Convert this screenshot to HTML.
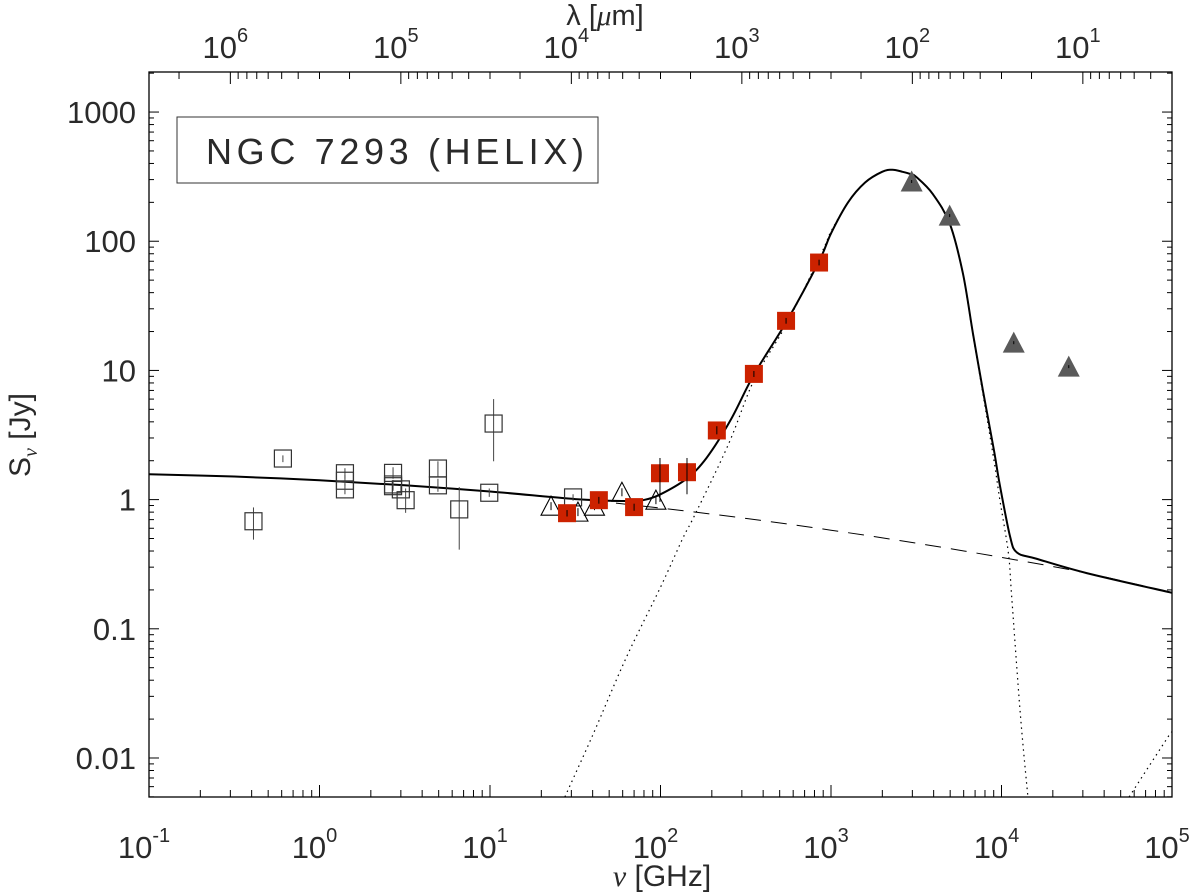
<!DOCTYPE html>
<html><head><meta charset="utf-8"><style>
html,body{margin:0;padding:0;background:#fff;}
svg{display:block;font-family:"Liberation Sans",sans-serif;}
</style></head><body>
<svg id="chart" width="1200" height="895" viewBox="0 0 1200 895" xmlns="http://www.w3.org/2000/svg"></svg>
<script>
// ---- data (frequency in GHz, flux in Jy) ----
const openSqNu   = [0.41,0.61,1.41,1.41,1.41,2.7,2.7,2.7,3.0,3.2,4.95,4.95,6.6,9.9,10.5,30.7];
const openSqS    = [0.68,2.08,1.6,1.4,1.2,1.61,1.31,1.27,1.2,0.99,1.74,1.29,0.84,1.13,3.88,1.04];
const openSqLo   = [0.49,1.95,1.45,1.28,1.1,1.45,1.2,1.17,1.12,0.79,1.5,1.15,0.41,1.05,1.98,0.98];
const openSqHi   = [0.87,2.2,1.75,1.55,1.32,1.78,1.42,1.38,1.3,1.22,1.98,1.45,1.25,1.22,6.0,1.1];
const openTriNu  = [22.8,32.8,41,59.4,94];
const openTriS   = [0.89,0.80,0.89,1.14,0.99];
const redNu      = [28.3,43.5,70,99.3,143,214,353,545,851];
const redS       = [0.785,0.99,0.875,1.6,1.63,3.43,9.4,24.2,68.4];
const redLo      = [0.74,0.93,0.82,0.96,1.1,3.2,8.9,23,65];
const redHi      = [0.83,1.05,0.93,2.1,2.1,3.7,9.9,25.5,72];
const greyTriNu  = [2972,4966,11800,24800];
const greyTriS   = [290,158,16.4,10.7];
// model curves
const totalNu = [0.1,0.316,1,3.16,10,31.6,60,79,100,143,186,257,355,550,851,1000,1259,1585,1995,2291,2630,2951,3162,3963,4989,5943,6808,7780,9036,9772,11220,12300,15850,31620,100000];
const totalS  = [1.57,1.51,1.41,1.29,1.155,1.01,0.975,0.99,1.1,1.46,2.1,4.1,9.4,24,70,115,200,285,345,358,345,330,315,231,135,56,19.2,7.0,2.4,1.3,0.52,0.39,0.35,0.27,0.19];
const ffNu = [0.1,0.316,1,3.16,10,31.6,100,316,1000,3162,10000,31620,100000];
const ffS  = [1.57,1.51,1.41,1.29,1.155,1.01,0.86,0.715,0.58,0.46,0.357,0.27,0.19];
const dustNu = [27.5,40,63,100,135,158,251,355,550,891,1000,1259,1585,1995,2291,2630,2951,3162,3981,5012,5943,6808,7780,9036,9772,10965,11482,12882,14289];
const dustS  = [0.005,0.015,0.06,0.21,0.5,0.75,2.7,8.5,23,84,119,199,284,344,357,344,329,314,230,134,55,18.7,6.6,2.0,1.0,0.39,0.177,0.022,0.005];
const hotNu = [56000,95500,100000];
const hotS  = [0.005,0.0148,0.016];
const xTickExp = [-1,0,1,2,3,4,5];
const yTickVals = [1000,100,10,1,0.1,0.01];
const yTickLabels = ["1000","100","10","1","0.1","0.01"];
const lamTickExp = [6,5,4,3,2,1];

// ---- axes ----
const X0=149,X1=1172,Y0=72,Y1=797;
const xmin=-1,xmax=5, ymin=-2.302,ymax=3.31;
function xs(nu){return X0+(Math.log10(nu)-xmin)/(xmax-xmin)*(X1-X0);}
function ys(s){return Y1-(Math.log10(s)-ymin)/(ymax-ymin)*(Y1-Y0);}
const svg=document.getElementById('chart');
const NS='http://www.w3.org/2000/svg';
function mk(tag,attrs,parent){const e=document.createElementNS(NS,tag);for(const k in attrs)e.setAttribute(k,attrs[k]);(parent||svg).appendChild(e);return e;}
const TXT='#2a2a2a';

const clip=mk('clipPath',{id:'pc'});mk('rect',{x:X0,y:Y0,width:X1-X0,height:Y1-Y0},clip);

const frame=mk('rect',{x:X0,y:Y0,width:X1-X0,height:Y1-Y0,fill:'none',stroke:'#000','stroke-width':1.3});



// x ticks (bottom)
const gx=mk('g',{stroke:'#000','stroke-width':1});


for(let e=-1;e<5;e++){for(let m=1;m<10;m++){const v=m*Math.pow(10,e);const x=xs(v);const L=m===1?12:7;mk('line',{x1:x,y1:Y1,x2:x,y2:Y1-L},gx);}}
mk('line',{x1:X1,y1:Y1,x2:X1,y2:Y1-12},gx);
xTickExp.forEach(e=>{
  const t=mk('text',{x:xs(Math.pow(10,e))-5,y:858,'font-size':31,fill:TXT,'text-anchor':'middle'});
  
  
  t.textContent='10';
  const s=mk('tspan',{'font-size':20,dy:-16},t);s.textContent=String(e);
});
const xt=mk('text',{x:662,y:886,'font-size':30,fill:TXT,'text-anchor':'middle'});


xt.innerHTML='<tspan font-family="Liberation Serif" font-style="italic">ν</tspan> [GHz]';

// top lambda axis
const gt=mk('g',{stroke:'#000','stroke-width':1});


for(let e=0;e<=6;e++){for(let m=1;m<10;m++){const lam=m*Math.pow(10,e);const nu=3e5/lam;const x=xs(nu);if(x<X0-0.5||x>X1+0.5)continue;const L=m===1?12:7;mk('line',{x1:x,y1:Y0,x2:x,y2:Y0+L},gt);}}
lamTickExp.forEach(e=>{
  const t=mk('text',{x:xs(3e5/Math.pow(10,e))-5,y:58,'font-size':31,fill:TXT,'text-anchor':'middle'});
  
  
  t.textContent='10';
  const s=mk('tspan',{'font-size':20,dy:-16},t);s.textContent=String(e);
});
const lt=mk('text',{x:605,y:25,'font-size':29,fill:TXT,'text-anchor':'middle'});


lt.innerHTML='λ [<tspan font-family="Liberation Serif" font-style="italic">μ</tspan>m]';

// y ticks
const gy=mk('g',{stroke:'#000','stroke-width':1});


for(let e=-3;e<4;e++){for(let m=1;m<10;m++){const v=m*Math.pow(10,e);const y=ys(v);if(y<Y0||y>Y1)continue;const L=m===1?10:5;mk('line',{x1:X0,y1:y,x2:X0+L,y2:y},gy);mk('line',{x1:X1,y1:y,x2:X1-L,y2:y},gy);}}
yTickVals.forEach((v,i)=>{
  const t=mk('text',{x:136,y:ys(v)+11,'font-size':31,fill:TXT,'text-anchor':'end'});
  
  
  t.textContent=yTickLabels[i];
});
const yt=mk('text',{x:0,y:0,'font-size':30,fill:TXT,'text-anchor':'middle',transform:'translate(30,435) rotate(-90)'});


yt.innerHTML='S<tspan font-size="20" dy="7" font-family="Liberation Serif" font-style="italic">ν</tspan><tspan dy="-7"> [Jy]</tspan>';

// legend box
const lg=mk('g',{});


mk('rect',{x:177,y:117,width:421,height:66,fill:'#fff',stroke:'#333','stroke-width':1},lg);
const ltxt=mk('text',{x:206,y:164,'font-size':36,fill:TXT,'text-anchor':'start',textLength:378},lg);


ltxt.textContent='NGC 7293 (HELIX)';

// curves (Catmull-Rom smoothing in pixel space)
const gc=mk('g',{'clip-path':'url(#pc)',fill:'none'});
function path(nu,s,attrs,name,smooth){
  const P=nu.map((v,i)=>[xs(v),ys(s[i])]);
  let d='M'+P[0][0].toFixed(1)+','+P[0][1].toFixed(1);
  for(let i=0;i<P.length-1;i++){
    if(!smooth){d+=' L'+P[i+1][0].toFixed(1)+','+P[i+1][1].toFixed(1);continue;}
    const p0=P[i-1]||P[i],p1=P[i],p2=P[i+1],p3=P[i+2]||P[i+1];
    const c1=[p1[0]+(p2[0]-p0[0])/6,p1[1]+(p2[1]-p0[1])/6];
    const c2=[p2[0]-(p3[0]-p1[0])/6,p2[1]-(p3[1]-p1[1])/6];
    d+=' C'+c1[0].toFixed(1)+','+c1[1].toFixed(1)+' '+c2[0].toFixed(1)+','+c2[1].toFixed(1)+' '+p2[0].toFixed(1)+','+p2[1].toFixed(1);
  }
  const p=mk('path',Object.assign({d:d},attrs),gc);
  
  
  return p;
}
path(ffNu,ffS,{stroke:'#000','stroke-width':1,'stroke-dasharray':'16,10'},'free-free-model-line',true);
path(dustNu,dustS,{stroke:'#000','stroke-width':1.2,'stroke-dasharray':'1.5,4'},'dust-model-line',true);
path(hotNu,hotS,{stroke:'#000','stroke-width':1.2,'stroke-dasharray':'1.5,4'},'hot-dust-model-line',false);
path(totalNu,totalS,{stroke:'#000','stroke-width':2,'stroke-linejoin':'round'},'total-model-line',true);

// data points
const gp=mk('g',{'clip-path':'url(#pc)'});
openSqNu.forEach((nu,i)=>{
  const x=xs(nu),y=ys(openSqS[i]);
  const l=mk('line',{x1:x,y1:ys(openSqLo[i]),x2:x,y2:ys(openSqHi[i]),stroke:'#444','stroke-width':1},gp);
  
  
  const r=mk('rect',{x:x-8.5,y:y-8.5,width:17,height:17,fill:'none',stroke:'#333','stroke-width':1.2},gp);
  
  
});
openTriNu.forEach((nu,i)=>{
  const x=xs(nu),y=ys(openTriS[i]);
  const t=mk('polygon',{points:`${x},${y-10} ${x-10},${y+9} ${x+10},${y+9}`,fill:'none',stroke:'#000','stroke-width':1.1},gp);
  
  
  mk('line',{x1:x,y1:y-4,x2:x,y2:y+4,stroke:'#000','stroke-width':1},gp);
});
redNu.forEach((nu,i)=>{
  const x=xs(nu),y=ys(redS[i]);
  const r=mk('rect',{x:x-9,y:y-9,width:18,height:18,fill:'#cc2200'},gp);
  
  
  const l=mk('line',{x1:x,y1:ys(redLo[i]),x2:x,y2:ys(redHi[i]),stroke:'#000','stroke-width':1},gp);
  
  
});
greyTriNu.forEach((nu,i)=>{
  const x=xs(nu),y=ys(greyTriS[i]);
  const t=mk('polygon',{points:`${x},${y-11} ${x-11},${y+10} ${x+11},${y+10}`,fill:'#5a5a5a'},gp);
  
  
  mk('line',{x1:x,y1:y-1.5,x2:x,y2:y+1.5,stroke:'#000','stroke-width':1},gp);
});
</script>
</body></html>
